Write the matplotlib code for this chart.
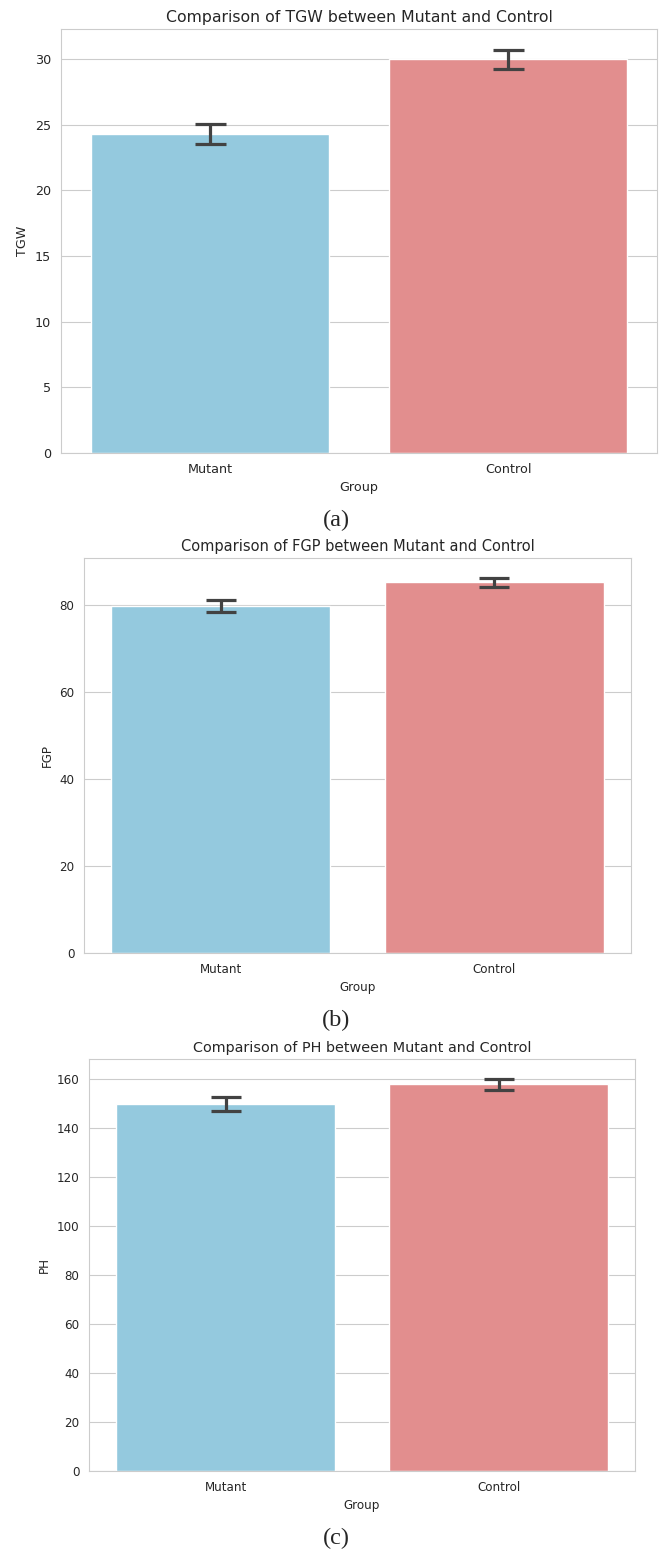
import matplotlib.pyplot as plt
import seaborn as sns

groups = ["Mutant", "Control"]
traits = ["TGW", "FGP", "PH"]
captions = ["(a)", "(b)", "(c)"]

tgw_mean = [24.3, 30.0]
tgw_err = [0.77, 0.72]
fgp_mean = [79.7, 85.2]
fgp_err = [1.4, 1.1]
ph_mean = [149.8, 157.8]
ph_err = [3.0, 2.3]

means = [tgw_mean, fgp_mean, ph_mean]
errs = [tgw_err, fgp_err, ph_err]
ylims = [32.3, 90.8, 168.2]
yticks = [[0, 5, 10, 15, 20, 25, 30], [0, 20, 40, 60, 80], [0, 20, 40, 60, 80, 100, 120, 140, 160]]

sns.set_style("whitegrid")
plt.rcParams["font.family"] = ["DejaVu Sans"]

W, H = 663, 1551
fig = plt.figure(figsize=(W / 100, H / 100), dpi=100)

# axes boxes in pixels: left, right, top, bottom
boxes = [(61, 657, 29, 453), (84, 631, 558, 953), (89, 635, 1059, 1471)]
caption_y = [520, 1020, 1538]
title_fs = [11.3, 10.5, 10.4]
tick_fs = [9.2, 8.6, 8.55]
cap_px = [31, 30, 30]

colors = [sns.desaturate("skyblue", 0.75), sns.desaturate("lightcoral", 0.75)]

for i, trait in enumerate(traits):
    l, r, t, b = boxes[i]
    ax = fig.add_axes([l / W, 1 - b / H, (r - l) / W, (b - t) / H])
    x = range(len(groups))
    ax.bar(x, means[i], width=0.8, color=colors)
    ax.errorbar(x, means[i], yerr=errs[i], fmt="none", ecolor="#424242",
                elinewidth=2.3, capsize=cap_px[i] / 2 * 0.72, capthick=2.3)
    ax.set_xlim(-0.5, 1.5)
    ax.set_ylim(0, ylims[i])
    ax.set_yticks(yticks[i])
    ax.set_xticks(list(x))
    ax.set_xticklabels(groups)
    ax.tick_params(labelsize=tick_fs[i])
    ax.xaxis.grid(False)
    ax.set_axisbelow(True)
    ax.set_xlabel("Group", fontsize=tick_fs[i])
    ax.set_ylabel(trait, fontsize=tick_fs[i])
    ax.set_title(f"Comparison of {trait} between Mutant and Control", fontsize=title_fs[i], pad=5)
    fig.text(336 / W, 1 - caption_y[i] / H, captions[i], ha="center", va="center",
             family="Liberation Serif", fontsize=17.5)

fig.savefig("out.png", dpi=100)
